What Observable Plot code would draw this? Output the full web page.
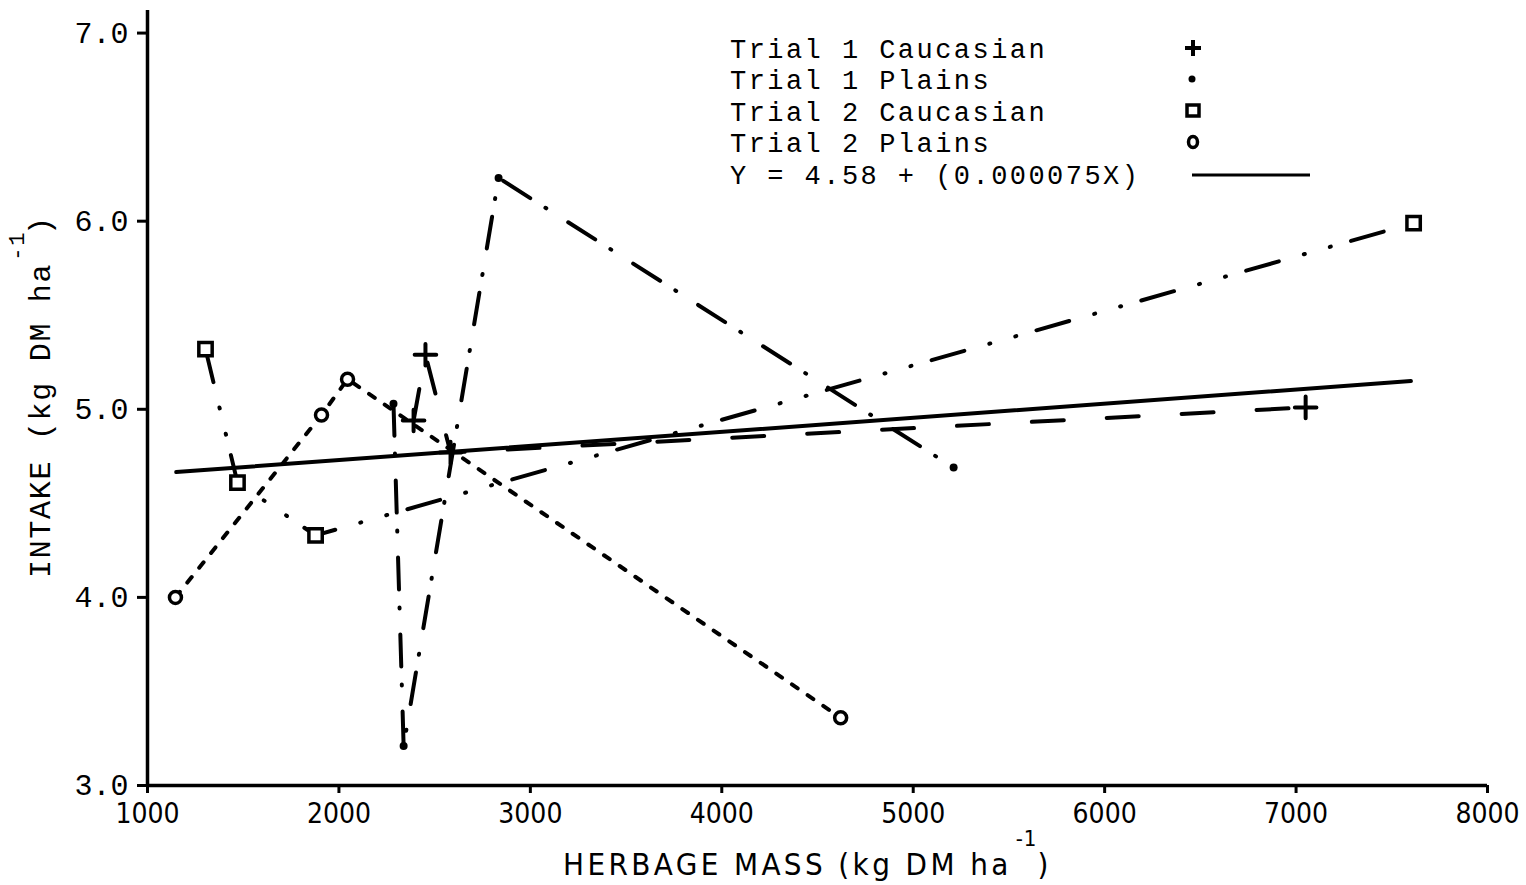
<!DOCTYPE html>
<html>
<head>
<meta charset="utf-8">
<script src="https://cdn.jsdelivr.net/npm/d3@7"></script>
<script src="https://cdn.jsdelivr.net/npm/@observablehq/plot@0.6"></script>
<style>
  html, body { margin: 0; padding: 0; background: #fff; }
  #chart { width: 1526px; height: 885px; }
  #chart svg { display: block; }
</style>
</head>
<body>
<div id="chart"></div>
<script>
// Herbage mass (kg DM/ha) and intake (kg DM/ha) per grazing period
const massTicks = [1000, 2000, 3000, 4000, 5000, 6000, 7000, 8000];
const intakeTicks = [3, 4, 5, 6, 7];

const seriesNames = ["Trial 1 Caucasian", "Trial 1 Plains", "Trial 2 Caucasian", "Trial 2 Plains"];

const t1CaucasianMass   = [2390, 2452, 2583, 7050];
const t1CaucasianIntake = [4.94, 5.29, 4.77, 5.01];

const t1PlainsMass   = [2285, 2338, 2834, 5211];
const t1PlainsIntake = [5.03, 3.21, 6.23, 4.69];

const t2CaucasianMass   = [1303, 1470, 1878, 7614];
const t2CaucasianIntake = [5.32, 4.61, 4.33, 5.99];

const t2PlainsMass   = [1146, 1909, 2045, 4621];
const t2PlainsIntake = [4.00, 4.97, 5.16, 3.36];

// Pooled regression: Y = 4.58 + 0.000075 X, over the observed mass range
const regIntercept = 4.58;
const regSlope = 0.000075;
const regMassRange = [1150, 7600];
const regLabel = "Y = 4.58 + (0.000075X)";

const seriesData = [
  [t1CaucasianMass, t1CaucasianIntake],
  [t1PlainsMass, t1PlainsIntake],
  [t2CaucasianMass, t2CaucasianIntake],
  [t2PlainsMass, t2PlainsIntake]
];

const rowsFor = (i) => seriesData[i][0].map((m, k) => ({series: seriesNames[i], mass: m, intake: seriesData[i][1][k]}));

// Drawing style per series (line dash pattern and marker)
const styles = {
  "Trial 1 Caucasian": {dash: "32,43", marker: "plus"},
  "Trial 1 Plains":    {dash: "32,18,1,26", marker: "dot"},
  "Trial 2 Caucasian": {dash: "34,26,1,26,1,21", marker: "square"},
  "Trial 2 Plains":    {dash: "7,12", marker: "circle"}
};

const FONT = "Liberation Mono, DejaVu Sans Mono, monospace";
const NARROW = "Liberation Sans Narrow, DejaVu Sans Condensed, sans-serif";

function markerMark(rows, kind) {
  const base = {x: "mass", y: "intake", stroke: "black"};
  if (kind === "plus") return Plot.dot(rows, {...base, symbol: "plus", r: 7, strokeWidth: 4, strokeLinecap: "round"});
  if (kind === "dot") return Plot.dot(rows, {x: "mass", y: "intake", r: 4, fill: "black"});
  if (kind === "square") return Plot.dot(rows, {...base, symbol: "square2", r: 8.5, strokeWidth: 3.5, fill: "white"});
  return Plot.dot(rows, {...base, symbol: "circle", r: 6, strokeWidth: 3.5, fill: "white"});
}

const marks = [];
seriesNames.forEach((name, i) => {
  const rows = rowsFor(i);
  marks.push(Plot.line(rows, {x: "mass", y: "intake", stroke: "black", strokeWidth: 4,
    strokeDasharray: styles[name].dash, strokeLinecap: "round", strokeLinejoin: "round"}));
});

const regRows = regMassRange.map(m => ({mass: m, intake: regIntercept + regSlope * m}));
marks.push(Plot.line(regRows, {x: "mass", y: "intake", stroke: "black", strokeWidth: 4}));

seriesNames.forEach((name, i) => marks.push(markerMark(rowsFor(i), styles[name].marker)));

const svg = Plot.plot({
  width: 1526,
  height: 885,
  marginLeft: 147,
  marginRight: 39,
  marginTop: 10,
  marginBottom: 100,
  style: {fontFamily: FONT, background: "white", color: "black"},
  x: {domain: [1000, 8000]},
  y: {domain: [3, 7.12]},
  marks: [
    Plot.axisX({ticks: massTicks, tickFormat: d => String(d), tickSize: 8, tickPadding: 10,
      fontSize: 28, fontFamily: NARROW, label: null, strokeWidth: 3}),
    Plot.axisY({ticks: intakeTicks, tickFormat: d => d.toFixed(1), tickSize: 10, tickPadding: 9,
      fontSize: 30, label: null, strokeWidth: 3}),
    Plot.ruleX([1000], {stroke: "black", strokeWidth: 3.5}),
    Plot.ruleY([3], {stroke: "black", strokeWidth: 3.5}),
    ...marks
  ]
});

document.getElementById("chart").appendChild(svg);

const s = d3.select(svg);

// Axis titles with superscript exponents
const xt = s.append("text")
  .attr("x", 563).attr("y", 875)
  .attr("text-anchor", "start")
  .attr("font-family", NARROW).attr("font-size", 31).attr("letter-spacing", 3.4)
  .attr("fill", "black");
xt.append("tspan").text("HERBAGE MASS (kg DM ha");
xt.append("tspan").attr("dx", 4).attr("dy", -29).attr("font-size", 22).attr("letter-spacing", 1).text("-1");
xt.append("tspan").attr("dx", 0).attr("dy", 29).text(")");

const yt = s.append("text")
  .attr("transform", "translate(50,578) rotate(-90)")
  .attr("text-anchor", "start")
  .attr("font-family", FONT).attr("font-size", 30).attr("letter-spacing", 1.7)
  .attr("fill", "black");
yt.append("tspan").text("INTAKE (kg DM ha");
yt.append("tspan").attr("dx", 2).attr("dy", -26).attr("font-size", 22).text("-1");
yt.append("tspan").attr("dx", -4).attr("dy", 26).text(")");

// Key
const key = s.append("g").attr("font-family", FONT).attr("font-size", 27).attr("letter-spacing", 2.45)
  .attr("text-anchor", "start").attr("fill", "black");
const keyLabels = [...seriesNames, regLabel];
const keyBaselines = [58, 89, 121, 152, 184];
keyLabels.forEach((label, i) => {
  key.append("text").attr("x", 730).attr("y", keyBaselines[i]).text(label);
});
const kx = 1193;
const kc = keyBaselines.map(b => b - 10);
// plus
key.append("path").attr("d", `M${kx - 8},${kc[0]}H${kx + 8}M${kx},${kc[0] - 8}V${kc[0] + 8}`)
  .attr("stroke", "black").attr("stroke-width", 4).attr("fill", "none");
// dot
key.append("circle").attr("cx", kx - 1).attr("cy", kc[1]).attr("r", 3.5).attr("fill", "black");
// square
key.append("rect").attr("x", kx - 6).attr("y", kc[2] - 6).attr("width", 12).attr("height", 11)
  .attr("stroke", "black").attr("stroke-width", 3.5).attr("fill", "white");
// circle
key.append("ellipse").attr("cx", kx).attr("cy", kc[3]).attr("rx", 4.5).attr("ry", 5.5)
  .attr("stroke", "black").attr("stroke-width", 3.5).attr("fill", "white");
// regression line
key.append("line").attr("x1", kx - 1).attr("x2", 1310).attr("y1", kc[4] + 1).attr("y2", kc[4] + 1)
  .attr("stroke", "black").attr("stroke-width", 3);
</script>
</body>
</html>
